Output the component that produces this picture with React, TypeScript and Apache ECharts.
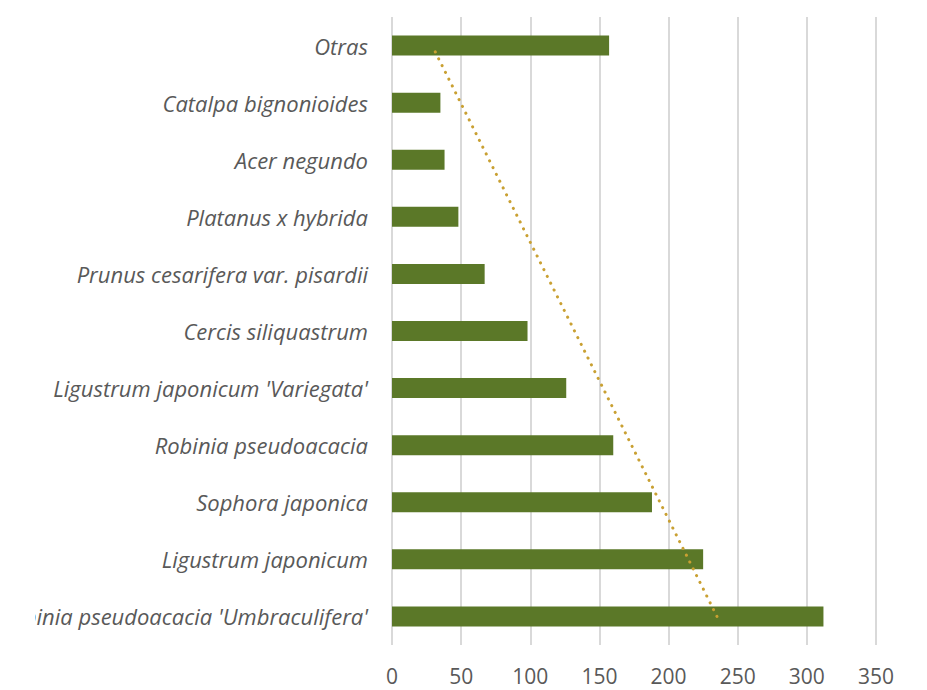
import React, { useEffect, useRef } from "react";
import * as echarts from "echarts";

const categories = [
  "Robinia pseudoacacia 'Umbraculifera'",
  "Ligustrum japonicum",
  "Sophora japonica",
  "Robinia pseudoacacia",
  "Ligustrum japonicum 'Variegata'",
  "Cercis siliquastrum",
  "Prunus cesarifera var. pisardii",
  "Platanus x hybrida",
  "Acer negundo",
  "Catalpa bignonioides",
  "Otras",
];
const values = [312, 225, 188, 160, 126, 98, 67, 48, 38, 35, 157];
// linear trendline end points (bottom category -> top category)
const trendValues = [235, 29];
const xTicks = { min: 0, max: 350, interval: 50 };

export default function App() {
  const ref = useRef<HTMLDivElement>(null);
  useEffect(() => {
    if (!ref.current) return;
    const chart = echarts.init(ref.current, undefined, { renderer: "svg" });
    const font = "'Open Sans', sans-serif";
    chart.setOption({
      animation: false,
      grid: { left: 357, right: 51, top: 17, bottom: 45, outerBoundsMode: "none" },
      xAxis: {
        type: "value",
        min: xTicks.min,
        max: xTicks.max,
        interval: xTicks.interval,
        axisLine: { show: false },
        axisTick: { show: false },
        axisLabel: { color: "#595959", fontSize: 21, fontFamily: font, margin: 20 },
        splitLine: { lineStyle: { color: "#D9D9D9", width: 2 } },
      },
      yAxis: {
        type: "category",
        data: categories,
        axisLine: { show: false },
        axisTick: { show: false },
        axisLabel: {
          color: "#595959",
          fontSize: 22,
          fontStyle: "italic",
          fontFamily: font,
          margin: 24,
        },
      },
      series: [
        {
          type: "bar",
          data: values,
          barWidth: 20,
          itemStyle: { color: "#5B7828" },
          z: 2,
        },
        {
          type: "line",
          data: [
            [trendValues[0], categories[0]],
            [trendValues[1], categories[categories.length - 1]],
          ],
          symbol: "none",
          lineStyle: { color: "#C9A032", width: 3, type: [0.1, 7.5], cap: "round" },
          z: 3,
        },
      ],
    });
    return () => chart.dispose();
  }, []);
  return (
    <div
      ref={ref}
      style={{ position: "absolute", left: 35, top: 0, width: 892, height: 690, background: "#fff" }}
    />
  );
}
